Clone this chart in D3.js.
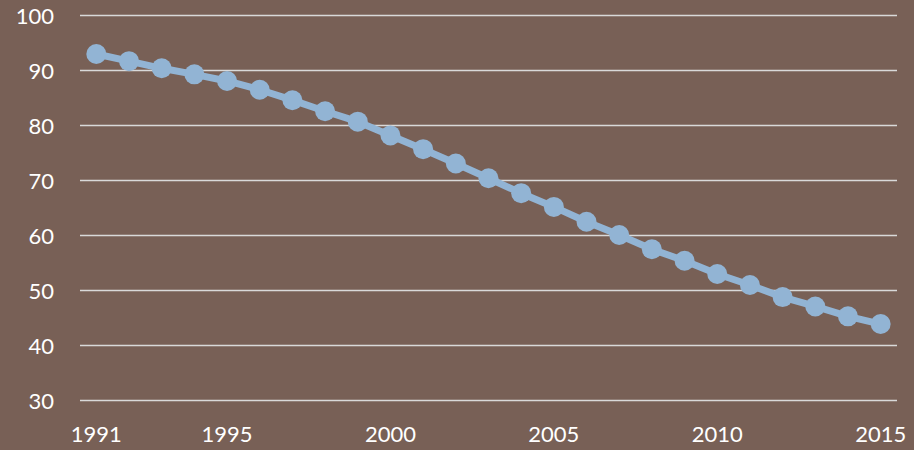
<!DOCTYPE html>
<html><head><meta charset="utf-8">
<script src="https://cdn.jsdelivr.net/npm/d3@7"></script>
<style>html,body{margin:0;padding:0;background:#786056;}svg{display:block;}</style>
</head><body>
<svg id="c" width="914" height="450"></svg>
<script>
const years = [1991,1992,1993,1994,1995,1996,1997,1998,1999,2000,2001,2002,2003,2004,2005,2006,2007,2008,2009,2010,2011,2012,2013,2014,2015];
const values = [93.0,91.7,90.4,89.3,88.1,86.5,84.6,82.6,80.7,78.2,75.7,73.1,70.4,67.7,65.2,62.5,60.1,57.5,55.4,53.0,51.0,48.8,47.1,45.3,43.9];
const yTicks = [30,40,50,60,70,80,90,100];
const xTickLabels = [1991,1995,2000,2005,2010,2015];

const svg = d3.select("#c");
const W = 914, H = 450;
const m = {left:80, right:17, top:15.5, bottom:49.5};
svg.append("rect").attr("width",W).attr("height",H).attr("fill","#786056");

const x = d3.scaleBand().domain(years).range([m.left, W-m.right]);
const y = d3.scaleLinear().domain([30,100]).range([H-m.bottom, m.top]);

const font = "Lato, 'Open Sans', sans-serif";

// gridlines
svg.append("g").selectAll("line").data(yTicks).join("line")
  .attr("x1", m.left).attr("x2", W-m.right)
  .attr("y1", d=>y(d)).attr("y2", d=>y(d))
  .attr("stroke","#d9d9d9").attr("stroke-width",1.5);

// y axis labels
const yAxis = d3.axisLeft(y).tickValues(yTicks).tickSize(0).tickPadding(0);
const gy = svg.append("g").attr("transform",`translate(54,0)`).call(yAxis);
gy.select(".domain").remove();
gy.selectAll("text").attr("fill","#ffffff").attr("font-family",font).attr("font-size",22).attr("dy","0.35em");

// x axis labels
const xAxis = d3.axisBottom(x).tickValues(xTickLabels).tickSize(0).tickPadding(0);
const gx = svg.append("g").attr("transform",`translate(0,426)`).call(xAxis);
gx.select(".domain").remove();
gx.selectAll("text").attr("fill","#ffffff").attr("font-family",font).attr("font-size",22).attr("dy","0.72em");

const cx = d => x(d) + x.bandwidth()/2;
const line = d3.line().x((d,i)=>cx(years[i])).y(d=>y(d));
svg.append("path").datum(values).attr("d",line)
  .attr("fill","none").attr("stroke","#92b4d4").attr("stroke-width",7).attr("stroke-linejoin","round");

svg.append("g").selectAll("circle").data(values).join("circle")
  .attr("cx",(d,i)=>cx(years[i])).attr("cy",d=>y(d)).attr("r",10)
  .attr("fill","#92b4d4");
</script>
</body></html>
